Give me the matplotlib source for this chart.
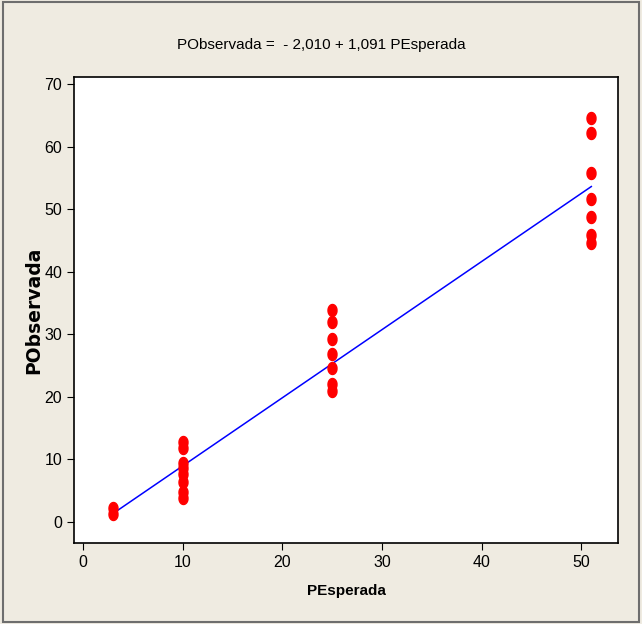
import numpy as np
from matplotlib import pyplot as plt
from matplotlib.patches import Rectangle

## valores observados para cada valor esperado
PEsperada = [3, 3,
             10, 10, 10, 10, 10, 10, 10, 10,
             25, 25, 25, 25, 25, 25, 25,
             51, 51, 51, 51, 51, 51, 51]
PObservada = [1.3, 2.2,
              12.8, 11.8, 9.4, 8.6, 7.7, 6.4, 4.7, 3.8,
              33.8, 31.9, 29.2, 26.8, 24.6, 22.1, 20.9,
              64.6, 62.2, 55.8, 51.6, 48.7, 45.9, 44.6]

## coeficientes da regressao
b0 = -2.010
b1 = 1.091

plt.rcParams['font.family'] = ['Liberation Sans', 'DejaVu Sans']

fig = plt.figure(figsize=(6.42, 6.24), dpi=100)
fig.patch.set_facecolor('#efebe1')
fig.patches.append(Rectangle((0.004, 0.004), 0.992, 0.992, transform=fig.transFigure,
                             fill=False, edgecolor='#6e6e6e', linewidth=1.5))

ax = fig.add_axes([0.115, 0.130, 0.848, 0.747])
ax.set_facecolor('white')

## marcador eliptico (mais alto que largo)
t = np.linspace(0, 2 * np.pi, 40)
elip = np.column_stack([0.75 * np.cos(t), np.sin(t)])

ax.scatter(PEsperada, PObservada, marker=elip, s=75, color='red', zorder=3)

xl = np.array([min(PEsperada), max(PEsperada)])
ax.plot(xl, b0 + b1 * xl, color='blue', linewidth=1.1, zorder=2)

ax.set_xlim(-0.9, 53.7)
ax.set_ylim(-3.4, 71.2)
ax.set_xticks([0, 10, 20, 30, 40, 50])
ax.set_yticks([0, 10, 20, 30, 40, 50, 60, 70])
ax.tick_params(direction='out', length=5, labelsize=11.5, top=False, right=False)
for s in ax.spines.values():
    s.set_linewidth(1.2)

ax.set_xlabel('PEsperada', fontsize=11, fontweight='bold', labelpad=10)
ax.set_ylabel('PObservada', fontsize=13.5, fontweight='bold', family=['DejaVu Sans'], labelpad=1)
fig.text(0.5, 0.928, 'PObservada =  - 2,010 + 1,091 PEsperada', ha='center', va='center', fontsize=11)

plt.savefig('out.png', dpi=100, facecolor=fig.get_facecolor())
